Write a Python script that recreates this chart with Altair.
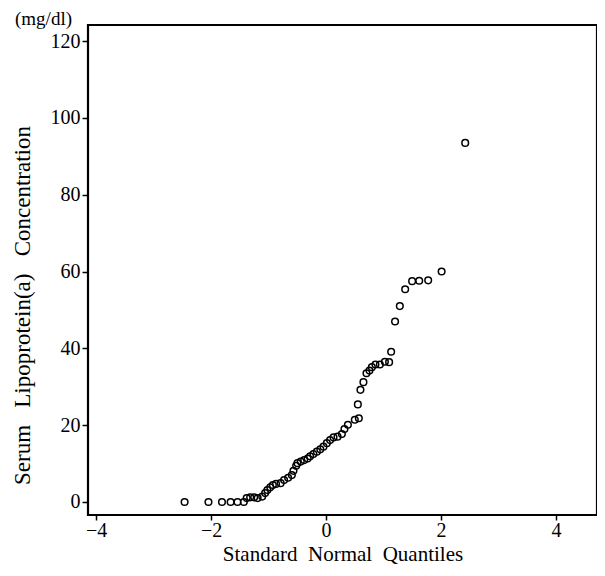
import altair as alt
import pandas as pd

quantiles = [
    -2.46, -2.045, -1.81, -1.66, -1.54, -1.43,
    -1.38, -1.32, -1.25, -1.19, -1.11, -1.06, -1.02, -0.97, -0.925, -0.87,
    -0.79, -0.73, -0.66, -0.595, -0.567, -0.52, -0.497, -0.44, -0.38, -0.32,
    -0.277, -0.22, -0.16, -0.10, -0.045, 0.014, 0.07, 0.13, 0.20, 0.275,
    0.32, 0.38, 0.50, 0.57, 0.553, 0.598, 0.650, 0.703, 0.755, 0.797,
    0.859, 0.936, 1.023, 1.097, 1.132, 1.20, 1.283, 1.376, 1.497, 1.62,
    1.776, 2.01, 2.42,
]
concentration = [
    0, 0, 0, 0, 0, 0,
    1.0, 1.2, 1.2, 1.0, 1.4, 2.3, 3.1, 3.8, 4.4, 4.7,
    4.9, 5.7, 6.3, 7.0, 8.1, 9.4, 10.1, 10.5, 10.9, 11.3,
    11.9, 12.5, 13.1, 13.7, 14.4, 15.3, 16.1, 16.8, 17.0, 17.7,
    19.0, 20.1, 21.4, 21.8, 25.4, 29.2, 31.2, 33.5, 34.2, 35.1,
    35.8, 35.8, 36.5, 36.4, 39.1, 47.0, 51.0, 55.4, 57.5, 57.6,
    57.7, 60.0, 93.5,
]

x_ticks = [-4, -2, 0, 2, 4]
y_ticks = [0, 20, 40, 60, 80, 100, 120]
unit_label = "(mg/dl)"
NB = "\u00a0"
x_title = "Standard" + NB * 2 + "Normal" + NB * 2 + "Quantiles"
y_title = "Serum" + NB * 3 + "Lipoprotein(a)" + NB * 3 + "Concentration"

df = pd.DataFrame({"q": quantiles, "c": concentration})

FONT = "Liberation Serif"

points = alt.Chart(df).mark_point(
    shape="circle", filled=False, color="black", size=44, strokeWidth=1.5, opacity=1
).encode(
    x=alt.X("q:Q", scale=alt.Scale(domain=[-4.14, 4.712], nice=False, zero=False),
            axis=alt.Axis(values=x_ticks, title=x_title,
                          grid=False, domain=False, tickColor="black", tickSize=5,
                          tickWidth=1.5, labelFontSize=20, titleFontSize=21,
                          labelFont=FONT, titleFont=FONT, labelColor="black",
                          titleColor="black", titleFontWeight="normal",
                          labelPadding=0, titlePadding=3)),
    y=alt.Y("c:Q", scale=alt.Scale(domain=[-3.4, 124.2], nice=False, zero=False),
            axis=alt.Axis(values=y_ticks, title=y_title,
                          grid=False, domain=False, tickColor="black", tickSize=6,
                          tickWidth=1.5, labelFontSize=20, titleFontSize=23,
                          labelFont=FONT, titleFont=FONT, labelColor="black",
                          titleColor="black", titleFontWeight="normal",
                          labelPadding=2, titleX=-66, titleY=280,
                          titleAlign="center", titleBaseline="middle", titleAngle=270)),
)

unit = alt.Chart(pd.DataFrame({"t": [unit_label]})).mark_text(
    font=FONT, fontSize=19, color="black", align="left", baseline="top"
).encode(x=alt.value(-73), y=alt.value(-15), text="t:N")

chart = alt.layer(points, unit).properties(
    width=509, height=490,
    autosize=alt.AutoSizeParams(type="none"),
    padding={"left": 80, "top": 17, "right": 0, "bottom": 53},
).configure_view(stroke="black", strokeWidth=2.2)

chart.save("out.html", embed_options={"renderer": "svg", "actions": False})
